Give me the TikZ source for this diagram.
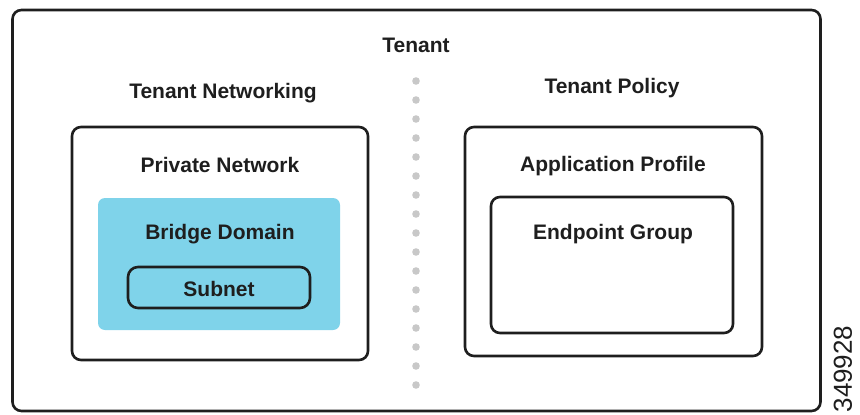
\documentclass[tikz,border=0pt]{standalone}
\usepackage{fontspec}
\setmainfont{Liberation Sans}
\definecolor{boxline}{HTML}{1E1E1E}
\definecolor{bdfill}{HTML}{7FD3EA}
\definecolor{dotgray}{HTML}{C8C8C8}
\begin{document}
\begin{tikzpicture}[x=1pt,y=-1pt,
  frame/.style={draw=boxline,line width=2.6pt,rounded corners=9pt,inner sep=0pt,outer sep=0pt},
  lbl/.style={font=\fontsize{21}{25}\selectfont\bfseries,text=boxline,inner sep=0pt},
]
\useasboundingbox (0,0) rectangle (860,415);
\node[frame,minimum width=808pt,minimum height=401pt] (tenant) at (416.5,210.5) {};
\node[lbl] (tenantlbl) at (416,45) {Tenant};
\node[lbl] (netlbl) at (223,93) {Tenant Networking};
\node[lbl] (pollbl) at (612,88) {Tenant Policy};
\node[frame,minimum width=296pt,minimum height=233pt] (pn) at (220,243.5) {};
\node[lbl] (pnlbl) at (220,165) {Private Network};
\node[fill=bdfill,rounded corners=7pt,inner sep=0pt,minimum width=242pt,minimum height=132pt] (bd) at (219,264) {};
\node[lbl] (bdlbl) at (220,234) {Bridge Domain};
\node[frame,rounded corners=10pt,minimum width=182pt,minimum height=41pt] (sn) at (219,287.5) {};
\node[lbl] (snlbl) at (219,289) {Subnet};
\node[frame,minimum width=297pt,minimum height=229pt] (ap) at (613.5,241.5) {};
\node[lbl] (aplbl) at (613,166) {Application Profile};
\node[frame,minimum width=242pt,minimum height=136pt] (epg) at (612,265) {};
\node[lbl] (epglbl) at (613,234) {Endpoint Group};
\foreach \k in {0,...,16} {
  \fill[dotgray] (416,81+19*\k) circle (3.8pt);
}
\node[rotate=90,font=\fontsize{26}{30}\selectfont,text=boxline,inner sep=0pt] (num) at (843,369) {349928};
\end{tikzpicture}
\end{document}
